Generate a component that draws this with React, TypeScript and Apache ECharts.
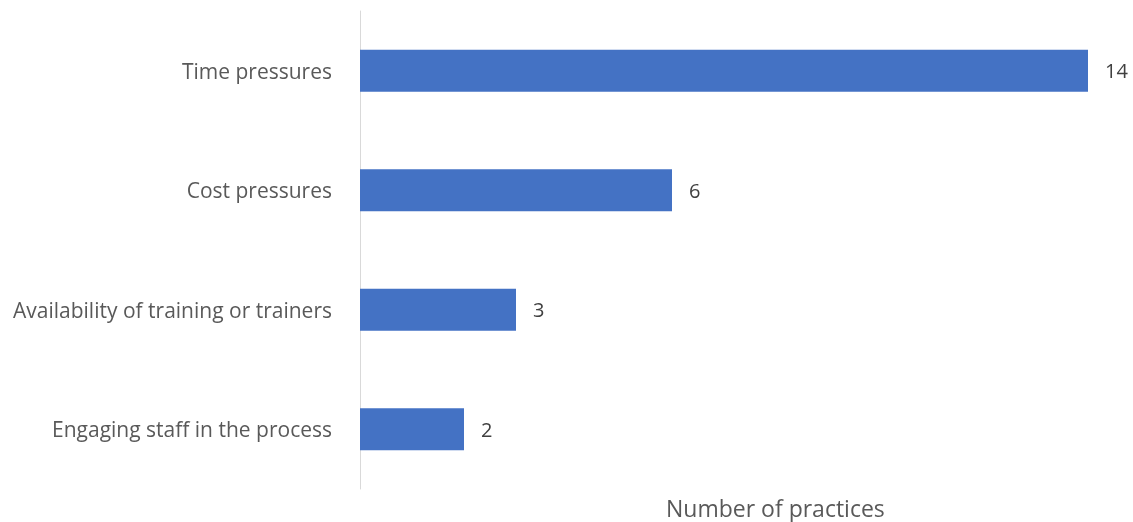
import React, { useEffect, useRef } from "react";
import * as echarts from "echarts";

const categories = [
  "Time pressures",
  "Cost pressures",
  "Availability of training or trainers",
  "Engaging staff in the process",
];
const values = [14, 6, 3, 2];
const axisTitle = "Number of practices";

export default function App() {
  const ref = useRef<HTMLDivElement>(null);
  useEffect(() => {
    const chart = echarts.init(ref.current!, null, { renderer: "svg" });
    const font = "Open Sans";
    chart.setOption({
      animation: false,
      grid: { left: 360, top: 11, width: 728, height: 478 },
      xAxis: {
        type: "value",
        min: 0,
        max: 14,
        show: false,
      },
      yAxis: {
        type: "category",
        data: categories,
        inverse: true,
        axisLine: { show: true, lineStyle: { color: "#d9d9d9", width: 1 } },
        axisTick: { show: false },
        axisLabel: {
          color: "#595959",
          fontSize: 21,
          fontFamily: font,
          margin: 28,
        },
      },
      series: [
        {
          type: "bar",
          data: values,
          barWidth: 42,
          itemStyle: { color: "#4472C4" },
          label: {
            show: true,
            position: "right",
            distance: 17,
            color: "#404040",
            fontSize: 20,
            fontFamily: font,
          },
        },
      ],
      graphic: [
        {
          type: "text",
          left: 666,
          top: 496,
          style: {
            text: axisTitle,
            fill: "#595959",
            fontSize: 23,
            fontFamily: font,
          },
        },
      ],
    });
    return () => chart.dispose();
  }, []);
  return (
    <div
      ref={ref}
      style={{ position: "fixed", left: 0, top: 0, width: 1133, height: 522 }}
    />
  );
}
